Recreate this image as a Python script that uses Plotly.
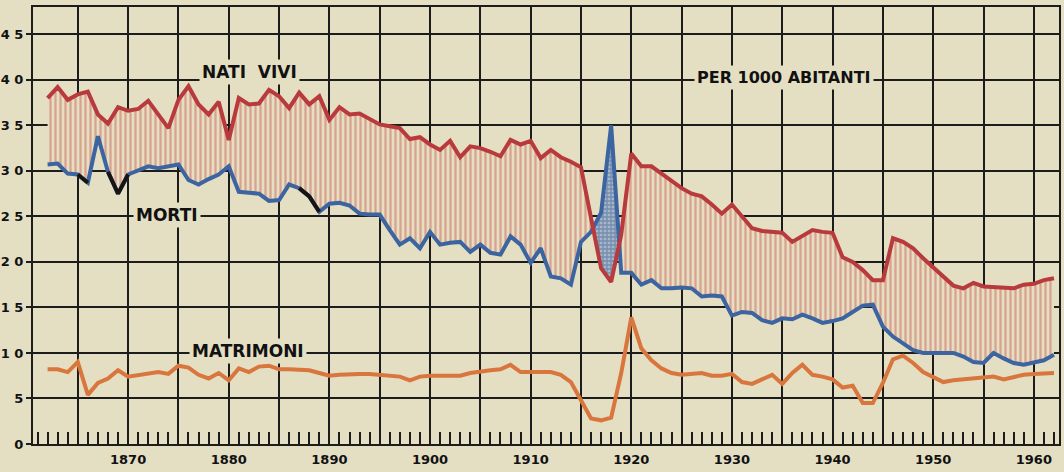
import plotly.graph_objects as go

# ---------------- data (per 1000 inhabitants, Italy) ----------------
years = list(range(1862, 1963))

nati_vivi = [
    38.0, 39.2, 37.8, 38.4, 38.7, 36.2, 35.2, 37.0, 36.6, 36.8,   # 1862-1871
    37.7, 36.2, 34.7, 37.8, 39.3, 37.3, 36.2, 37.6, 33.4, 38.0,   # 1872-1881
    37.3, 37.4, 38.9, 38.2, 36.9, 38.6, 37.3, 38.2, 35.6, 37.0,   # 1882-1891
    36.2, 36.3, 35.7, 35.1, 34.9, 34.7, 33.5, 33.7, 32.9, 32.3,   # 1892-1901
    33.3, 31.5, 32.7, 32.5, 32.1, 31.6, 33.4, 32.9, 33.3, 31.4,   # 1902-1911
    32.3, 31.5, 31.0, 30.4, 24.8, 19.3, 17.8, 23.0, 31.9, 30.5,   # 1912-1921
    30.5, 29.7, 28.8, 28.1, 27.5, 27.2, 26.3, 25.3, 26.3, 25.0,   # 1922-1931
    23.7, 23.4, 23.3, 23.2, 22.2, 22.8, 23.5, 23.3, 23.2, 20.5,   # 1932-1941
    20.0, 19.1, 18.0, 18.0, 22.6, 22.2, 21.5, 20.4, 19.4, 18.3,   # 1942-1951
    17.4, 17.1, 17.7, 17.3, 17.2, 17.2, 17.1, 17.5, 17.6, 18.0,   # 1952-1961
    18.2,                                                         # 1962
]

morti = [
    30.7, 30.8, 29.7, 29.6, 28.7, 33.8, 29.9, 27.5, 29.6, 30.0,   # 1862-1871
    30.5, 30.3, 30.5, 30.7, 29.0, 28.5, 29.1, 29.6, 30.5, 27.7,   # 1872-1881
    27.6, 27.5, 26.7, 26.8, 28.5, 28.1, 27.2, 25.5, 26.4, 26.5,   # 1882-1891
    26.2, 25.3, 25.2, 25.2, 23.5, 21.9, 22.6, 21.5, 23.3, 21.9,   # 1892-1901
    22.1, 22.2, 21.1, 21.9, 21.0, 20.8, 22.8, 21.9, 19.9, 21.5,   # 1902-1911
    18.4, 18.2, 17.5, 22.2, 23.3, 25.4, 35.0, 18.8, 18.8, 17.5,   # 1912-1921
    18.0, 17.1, 17.1, 17.2, 17.1, 16.2, 16.3, 16.2, 14.1, 14.5,   # 1922-1931
    14.4, 13.6, 13.3, 13.8, 13.7, 14.2, 13.8, 13.3, 13.5, 13.8,   # 1932-1941
    14.5, 15.2, 15.3, 12.9, 11.8, 11.1, 10.3, 10.0, 10.0, 10.1,   # 1942-1951
    10.0, 9.6, 9.0, 8.9, 10.0, 9.4, 8.9, 8.7, 9.0, 9.2,           # 1952-1961
    9.8,                                                          # 1962
]

matrimoni = [
    8.2, 8.2, 7.9, 9.0, 5.4, 6.7, 7.2, 8.1, 7.4, 7.6,             # 1862-1871
    7.8, 7.9, 7.7, 8.6, 8.4, 7.6, 7.2, 7.8, 7.0, 8.3,             # 1872-1881
    7.9, 8.5, 8.6, 8.2, 8.2, 8.2, 8.1, 7.8, 7.5, 7.6,             # 1882-1891
    7.7, 7.7, 7.7, 7.6, 7.6, 7.4, 7.0, 7.4, 7.5, 7.5,             # 1892-1901
    7.6, 7.5, 7.8, 8.0, 8.1, 8.2, 8.7, 7.9, 7.9, 7.8,             # 1902-1911
    7.9, 7.6, 6.8, 4.8, 2.8, 2.6, 2.9, 7.8, 13.9, 10.5,           # 1912-1921
    9.2, 8.3, 7.8, 7.6, 7.7, 7.8, 7.5, 7.5, 7.7, 6.8,             # 1922-1931
    6.6, 7.1, 7.6, 6.6, 7.8, 8.7, 7.6, 7.4, 7.1, 6.2,             # 1932-1941
    6.4, 4.5, 4.5, 6.7, 9.3, 9.7, 8.9, 7.9, 7.4, 6.8,             # 1942-1951
    7.0, 7.1, 7.2, 7.3, 7.4, 7.1, 7.4, 7.6, 7.7, 7.8,             # 1952-1961
    7.8,                                                          # 1962
]

# years where the printed death line shows black ink
black_years = [1865, 1866, 1868, 1869, 1870, 1887, 1888, 1889]

x_tick_vals = list(range(1865, 1961, 5))
x_tick_text = [str(v) if v % 10 == 0 else "" for v in x_tick_vals]
y_tick_vals = list(range(0, 50, 5))
y_tick_text = [" ".join(str(v)) for v in y_tick_vals]

# ---------------- styles ----------------
BG = "#e4dec3"
GRID = "#1c1c1c"
RED = "#b83a3c"
HATCH_RED = "#cf6558"
BLUE = "#3c64a0"
BLUE_BG = "#a9b6c4"
ORANGE = "#d9763e"
FONT = "DejaVu Sans"


def split_fill(x, top, bot):
    """Split the band between two series where they cross."""
    segs = []
    cx, ct, cb = [x[0]], [top[0]], [bot[0]]
    sign = top[0] >= bot[0]
    for i in range(1, len(x)):
        s = top[i] >= bot[i]
        if s != sign:
            d0 = top[i - 1] - bot[i - 1]
            d1 = top[i] - bot[i]
            f = d0 / (d0 - d1)
            xc = x[i - 1] + f * (x[i] - x[i - 1])
            yc = top[i - 1] + f * (top[i] - top[i - 1])
            cx.append(xc); ct.append(yc); cb.append(yc)
            segs.append((cx, ct, cb, sign))
            cx, ct, cb = [xc], [yc], [yc]
            sign = s
        cx.append(x[i]); ct.append(top[i]); cb.append(bot[i])
    segs.append((cx, ct, cb, sign))
    return segs


fig = go.Figure()

for sx, st, sb, births_higher in split_fill(years, nati_vivi, morti):
    if births_higher:
        patt = dict(shape="|", fgcolor=HATCH_RED, bgcolor=BG, size=5, solidity=0.45)
    else:
        patt = dict(shape="+", fgcolor=BLUE, bgcolor=BLUE_BG, size=4, solidity=0.55)
    fig.add_trace(go.Scatter(
        x=sx + sx[::-1], y=st + sb[::-1], mode="none", fill="toself",
        fillcolor="rgba(0,0,0,0)", fillpattern=patt, hoverinfo="skip", showlegend=False,
    ))

fig.add_trace(go.Scatter(x=years, y=matrimoni, mode="lines",
                         line=dict(color=ORANGE, width=4), showlegend=False))
fig.add_trace(go.Scatter(x=years, y=morti, mode="lines",
                         line=dict(color=BLUE, width=4), showlegend=False))
black_y = [v if yr in black_years else None for yr, v in zip(years, morti)]
fig.add_trace(go.Scatter(x=years, y=black_y, mode="lines", connectgaps=False,
                         line=dict(color="#151515", width=4), showlegend=False))
fig.add_trace(go.Scatter(x=years, y=nati_vivi, mode="lines",
                         line=dict(color=RED, width=4), showlegend=False))

labels = [
    ("NATI  VIVI", 1882.1, 40.9, 17),
    ("MORTI", 1873.9, 25.2, 17),
    ("MATRIMONI", 1881.9, 10.2, 17),
    ("PER 1000 ABITANTI", 1935.2, 40.3, 16),
]
for txt, ax_, ay_, sz in labels:
    fig.add_annotation(x=ax_, y=ay_, xref="x", yref="y", text=txt, showarrow=False,
                       font=dict(family=FONT, size=sz, color="#111", weight="bold"),
                       bgcolor=BG, borderpad=2)

fig.update_layout(
    width=1064, height=472,
    margin=dict(l=33, r=5, t=7, b=28, autoexpand=False),
    paper_bgcolor=BG, plot_bgcolor=BG,
    xaxis=dict(
        range=[1860.55, 1962.5], automargin=False,
        tickmode="array", tickvals=x_tick_vals, ticktext=x_tick_text,
        showgrid=True, gridcolor=GRID, gridwidth=2,
        ticks="", ticklabelstandoff=2,
        showline=True, linecolor=GRID, linewidth=2, mirror=True,
        zeroline=False,
        tickfont=dict(family=FONT, size=13, color="#111", weight="bold"),
        minor=dict(tickmode="linear", tick0=1860, dtick=1, ticks="inside",
                   ticklen=12, tickwidth=2, tickcolor=GRID, showgrid=False),
    ),
    yaxis=dict(
        range=[0, 48], automargin=False,
        tickmode="array", tickvals=y_tick_vals, ticktext=y_tick_text,
        showgrid=True, gridcolor=GRID, gridwidth=2,
        ticks="outside", ticklen=5, tickwidth=2, tickcolor=GRID,
        showline=True, linecolor=GRID, linewidth=2, mirror=True,
        zeroline=False,
        tickfont=dict(family=FONT, size=13, color="#111", weight="bold"),
    ),
)

fig.write_html(
    "out.html",
    config={"displayModeBar": False},
    post_script="document.body.style.margin='0';document.body.style.background='" + BG + "';",
)
